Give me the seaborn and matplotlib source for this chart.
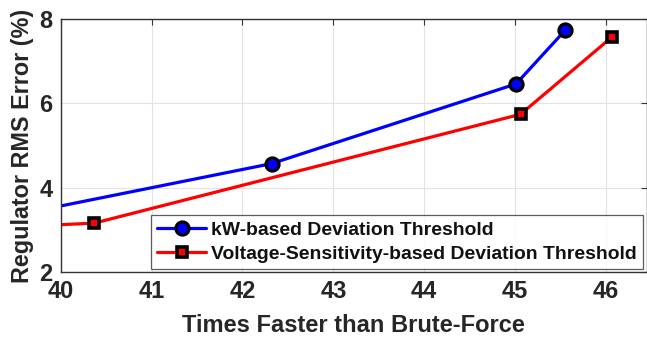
import matplotlib
matplotlib.use("Agg")
import matplotlib.pyplot as plt
import seaborn as sns
import pandas as pd

# Data (first point of each series lies just left of the visible x-range)
kw_x = [39.5, 42.32, 45.01, 45.55]
kw_y = [3.35, 4.57, 6.46, 7.73]
vs_x = [39.5, 40.37, 45.06, 46.07]
vs_y = [3.07, 3.16, 5.74, 7.58]
series_names = ["kW-based Deviation Threshold",
                "Voltage-Sensitivity-based Deviation Threshold"]
x_ticks = [40, 41, 42, 43, 44, 45, 46]
y_ticks = [2, 4, 6, 8]

df = pd.concat([
    pd.DataFrame({"x": kw_x, "y": kw_y, "s": series_names[0]}),
    pd.DataFrame({"x": vs_x, "y": vs_y, "s": series_names[1]}),
])

sns.set_theme(style="white")
plt.rcParams["font.family"] = ["Liberation Sans", "DejaVu Sans"]
plt.rcParams["font.weight"] = "bold"

fig = plt.figure(figsize=(6.47, 3.39), dpi=100)
ax = fig.add_axes([0.0938, 0.1976, 0.906, 0.7464])

colors = {series_names[0]: "#0000ff", series_names[1]: "#ff0000"}
markers = {series_names[0]: "o", series_names[1]: "s"}
sizes = {series_names[0]: 9.5, series_names[1]: 7.5}
edges = {series_names[0]: 2.2, series_names[1]: 2.6}
for name in series_names:
    sub = df[df["s"] == name]
    sns.lineplot(data=sub, x="x", y="y", ax=ax, color=colors[name],
                 linewidth=2.3, marker=markers[name], markersize=sizes[name],
                 markeredgecolor="black", markeredgewidth=edges[name],
                 markerfacecolor=colors[name], label=name, sort=False)

ax.set_xlim(40, 46.45)
ax.set_ylim(2, 8)
ax.set_xticks(x_ticks)
ax.set_yticks(y_ticks)
ax.grid(True, color="#e3e3e3", linewidth=0.8)
for sp in ax.spines.values():
    sp.set_color("#333333")
    sp.set_linewidth(1.0)
ax.tick_params(direction="in", length=4, width=0.8, color="#333333",
               top=True, right=True, labelsize=17, labelcolor="#262626", pad=6)
for lab in ax.get_xticklabels() + ax.get_yticklabels():
    lab.set_fontweight("bold")

ax.set_xlabel("Times Faster than Brute-Force", fontsize=17, fontweight="bold",
              color="#262626", labelpad=7.5)
ax.set_ylabel("Regulator RMS Error (%)", fontsize=16.8, fontweight="bold",
              color="#262626", labelpad=4)

leg = ax.legend(loc="lower right", bbox_to_anchor=(0.993, 0.012), fontsize=13.95,
                frameon=True, fancybox=False, edgecolor="#333333",
                handlelength=2.5, handletextpad=0.25, borderpad=0.33,
                labelspacing=0.32, borderaxespad=0.0)
leg.get_frame().set_linewidth(0.9)
for t in leg.get_texts():
    t.set_fontweight("bold")
    t.set_color("#111111")

fig.savefig("out.png", dpi=100)
